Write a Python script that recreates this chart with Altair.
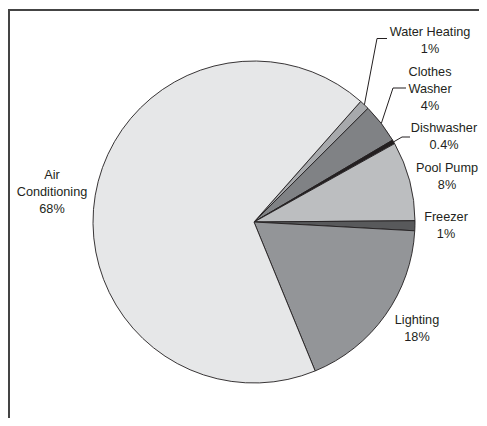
import altair as alt
import pandas as pd
import numpy as np

# ---- data ----
categories = ["Water Heating", "Clothes Washer", "Dishwasher", "Pool Pump", "Freezer", "Lighting", "Air Conditioning"]
values = [1, 4, 0.4, 8, 1, 18, 68]
name_lines = [["Water Heating"], ["Clothes", "Washer"], ["Dishwasher"], ["Pool Pump"], ["Freezer"], ["Lighting"], ["Air", "Conditioning"]]
colors = ["#a7a9ac", "#808285", "#231f20", "#bcbec0", "#58595b", "#939598", "#e6e7e8"]

# ---- layout (page pixel coordinates) ----
W, H = 471, 410
CX, CY, R = 254, 222, 161
START_DEG = 41.5
label_x = [430, 430, 444, 447, 446, 417, 52]
label_y0 = [32, 72, 128, 168, 217, 320, 175]
LINE_H = 17
# leader elbows (x, y) and horizontal end x
leader_elbow = {"Water Heating": (377, 38.5, 387), "Clothes Washer": (393, 88, 406), "Dishwasher": (402, 137, 410)}

df = pd.DataFrame({"cat": categories, "val": values, "idx": range(len(categories))})

# text rows
rows = []
for i, c in enumerate(categories):
    lines = name_lines[i] + [f"{values[i]:g}%"]
    for j, t in enumerate(lines):
        rows.append({"t": t, "x": label_x[i], "y": label_y0[i] + j * LINE_H})
tdf = pd.DataFrame(rows)

# leader rows: computed from slice mid-angles
total = sum(values)
cum = np.cumsum([0] + values[:-1])
lrows = []
for i, c in enumerate(categories):
    if c in leader_elbow:
        mid = np.radians(START_DEG + (cum[i] + values[i] / 2) / total * 360)
        px = CX + R * np.sin(mid)
        py = CY - R * np.cos(mid)
        ex, ey, hx = leader_elbow[c]
        lrows.append({"x": ex, "y": ey, "x2": px, "y2": py})
        lrows.append({"x": ex, "y": ey, "x2": hx, "y2": ey})
ldf = pd.DataFrame(lrows)

xs = alt.Scale(domain=[8, 8 + W])
ys = alt.Scale(domain=[8 + H, 8])

pie = alt.Chart(df).mark_arc(radius=R, stroke="#231f20", strokeWidth=0.9).encode(
    theta=alt.Theta("val:Q", stack=True,
                    scale=alt.Scale(range=[np.radians(START_DEG), np.radians(START_DEG) + 2 * np.pi])),
    order=alt.Order("idx:Q", sort="ascending"),
    color=alt.Color("cat:N", scale=alt.Scale(domain=categories, range=colors), legend=None),
    x=alt.value(CX - 8),
    y=alt.value(CY - 8),
)

text = alt.Chart(tdf).mark_text(font="Liberation Sans", fontSize=12.7, color="#231f20",
                                align="center", baseline="middle").encode(
    x=alt.X("x:Q", scale=xs, axis=None),
    y=alt.Y("y:Q", scale=ys, axis=None),
    text="t:N",
)

leaders = alt.Chart(ldf).mark_rule(color="#231f20", strokeWidth=1).encode(
    x=alt.X("x:Q", scale=xs, axis=None),
    y=alt.Y("y:Q", scale=ys, axis=None),
    x2="x2:Q",
    y2="y2:Q",
)

frame_top = alt.Chart(df).mark_rule(color="#444444", strokeWidth=2).encode(
    x=alt.value(0), x2=alt.value(W), y=alt.value(2))
frame_left = alt.Chart(df).mark_rule(color="#444444", strokeWidth=2).encode(
    x=alt.value(1), y=alt.value(1), y2=alt.value(H))

chart = alt.layer(pie, leaders, text, frame_top, frame_left).properties(
    width=W, height=H, autosize=alt.AutoSizeParams(type="none"), padding=0
).configure_view(stroke=None).resolve_scale(x="shared", y="shared")

chart.save("out.html", embed_options={"renderer": "svg", "actions": False})
